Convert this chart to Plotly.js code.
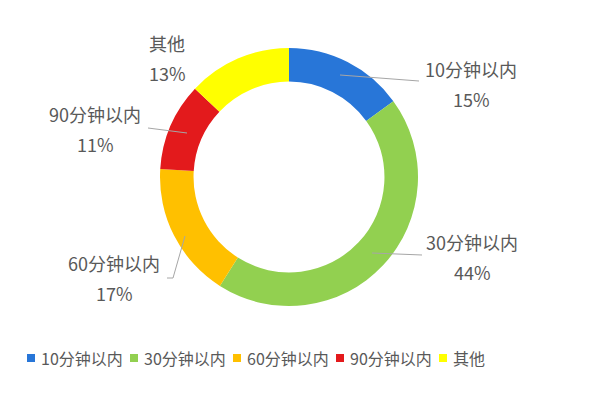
<!DOCTYPE html>
<html>
<head>
<meta charset="utf-8">
<script src="https://cdn.plot.ly/plotly-3.0.1.min.js"></script>
<style>html,body{margin:0;padding:0;background:#fff;}#chart{width:600px;height:393px;}</style>
</head>
<body>
<div id="chart"></div>
<script>
// Data
const categories = ['10分钟以内', '30分钟以内', '60分钟以内', '90分钟以内', '其他'];
const values = [15, 44, 17, 11, 13];
const colors = ['#2876d8', '#92d050', '#ffc000', '#e31a1c', '#ffff00'];

// Label layout (pixel positions of label centres and leader lines), separate from data
const W = 600, H = 393;
const labelPos = [
  {x: 471, y: 69, line: [[340, 75], [419, 81]]},
  {x: 472, y: 242, line: [[372, 253], [422, 255]]},
  {x: 114, y: 263, line: [[167, 278], [173, 278], [185, 236]]},
  {x: 95, y: 114, line: [[148, 128], [187, 133]]},
  {x: 167, y: 43, line: null}
];
const lineGap = 30;
// Legend layout
const legendX0 = 27, legendStep = 103, legendY = 358, swatch = 8, swatchGap = 7;

const px = x => x / W;
const py = y => 1 - y / H;

const total = values.reduce((a, b) => a + b, 0);
const labelFont = {family: 'Noto Sans CJK SC, sans-serif', size: 18, color: '#595959'};
const legendFont = {family: 'Noto Sans CJK SC, sans-serif', size: 16, color: '#595959'};
const annotations = [];
const shapes = [];
categories.forEach((c, i) => {
  annotations.push({
    xref: 'paper', yref: 'paper',
    x: px(labelPos[i].x), y: py(labelPos[i].y),
    xanchor: 'center', yanchor: 'middle',
    text: c, showarrow: false, font: labelFont
  });
  annotations.push({
    xref: 'paper', yref: 'paper',
    x: px(labelPos[i].x), y: py(labelPos[i].y + lineGap),
    xanchor: 'center', yanchor: 'middle',
    text: Math.round(values[i] / total * 100) + '%', showarrow: false, font: labelFont
  });
  // legend entry
  const lx = legendX0 + i * legendStep;
  shapes.push({
    type: 'rect', xref: 'paper', yref: 'paper',
    x0: px(lx), x1: px(lx + swatch),
    y0: py(legendY + swatch / 2), y1: py(legendY - swatch / 2),
    fillcolor: colors[i], line: {width: 0}
  });
  annotations.push({
    xref: 'paper', yref: 'paper',
    x: px(lx + swatch + swatchGap - 3), y: py(legendY),
    xanchor: 'left', yanchor: 'middle',
    text: c, showarrow: false, font: legendFont
  });
});

labelPos.forEach(p => {
  if (!p.line) return;
  for (let k = 0; k < p.line.length - 1; k++) {
    shapes.push({
      type: 'line', xref: 'paper', yref: 'paper',
      x0: px(p.line[k][0]), y0: py(p.line[k][1]),
      x1: px(p.line[k + 1][0]), y1: py(p.line[k + 1][1]),
      line: {color: '#a6a6a6', width: 1}
    });
  }
});

const cx = 289, cy = 177, r = 129;
const trace = {
  type: 'pie',
  labels: categories,
  values: values,
  sort: false,
  direction: 'clockwise',
  rotation: 0,
  hole: 0.74,
  textinfo: 'none',
  marker: {colors: colors, line: {width: 0}},
  domain: {x: [px(cx - r), px(cx + r)], y: [py(cy + r), py(cy - r)]},
  hoverinfo: 'label+percent'
};

const layout = {
  width: W, height: H,
  margin: {l: 0, r: 0, t: 0, b: 0},
  paper_bgcolor: '#ffffff',
  showlegend: false,
  annotations: annotations,
  shapes: shapes
};

Plotly.newPlot('chart', [trace], layout, {displayModeBar: false, staticPlot: true});
</script>
</body>
</html>
